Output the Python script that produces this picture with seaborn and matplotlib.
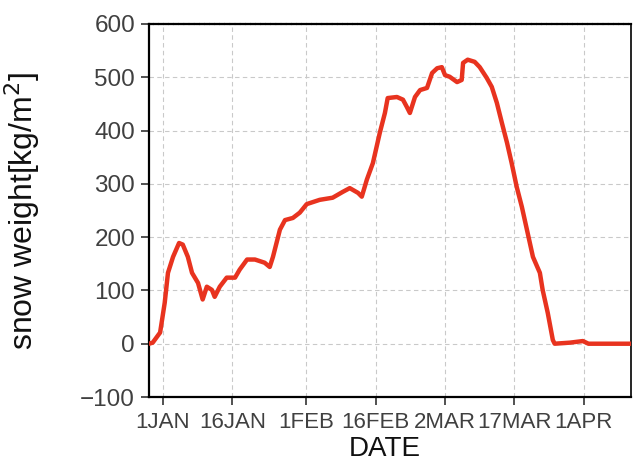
import numpy as np
import pandas as pd
import matplotlib
matplotlib.use("Agg")
import matplotlib.pyplot as plt
import seaborn as sns

# Days counted from 1 January (leap year), and snow weight in kg/m^2
days = [-3, -2.2, -0.6, 0.4, 1.1, 2.2, 3.5, 4.3, 5.4, 6.3,
        7.6, 8.6, 9.5, 10.6, 11.2, 12.3, 13.8, 15.6, 16.6, 18.2,
        19.9, 22.0, 23.1, 23.8, 25.3, 26.4, 28.1, 29.6, 31.1, 33.9,
        36.7, 38.9, 40.4, 42.2, 43.0, 44.1, 45.4, 46.9, 48.0, 48.6,
        50.6, 51.9, 52.7, 53.4, 54.5, 55.6, 57.1, 58.2, 59.3, 60.3,
        61.0, 62.0, 63.6, 64.6, 64.9, 65.9, 67.4, 68.5, 70.0, 71.1,
        72.2, 73.3, 74.4, 75.4, 76.5, 77.6, 78.7, 80.0, 81.5, 82.1,
        83.2, 84.3, 84.7, 88.0, 90.8, 92.0, 101.2]
snow_weight = [0, 2, 21, 77, 133, 163, 189, 186, 163, 133,
               114, 83, 107, 101, 88, 107, 124, 124, 139, 158,
               158, 152, 144, 163, 214, 232, 236, 246, 262, 270,
               274, 285, 292, 283, 276, 308, 339, 396, 433, 461,
               463, 458, 445, 433, 463, 476, 480, 508, 517, 519,
               504, 501, 491, 495, 527, 533, 529, 519, 499, 482,
               452, 414, 377, 339, 294, 257, 214, 163, 133, 101,
               58, 7, 0, 2, 5, 0, 0]

tick_days = [0, 15, 31, 46, 61, 76, 91]
tick_labels = ["1JAN", "16JAN", "1FEB", "16FEB", "2MAR", "17MAR", "1APR"]
y_ticks = [-100, 0, 100, 200, 300, 400, 500, 600]

df = pd.DataFrame({"day": days, "snow": snow_weight})

sns.set_style("white")
plt.rcParams["font.family"] = ["Liberation Sans", "DejaVu Sans"]

fig = plt.figure(figsize=(6.34, 4.65), dpi=100)
ax = fig.add_axes([149 / 634, 68 / 465, (631 - 149) / 634, (397 - 24) / 465])

sns.lineplot(data=df, x="day", y="snow", ax=ax, color="#e8331f",
             linewidth=3.2, estimator=None, zorder=3)

ax.set_xlim(-3, 101.2)
ax.set_ylim(-100, 600)
ax.set_xticks(tick_days)
ax.set_xticklabels(tick_labels)
ax.set_yticks(y_ticks)
ax.set_yticklabels([f"{v}" if v >= 0 else f"\u2212{abs(v)}" for v in y_ticks])

ax.grid(True, color="#c9c9c9", linestyle=(0, (4, 3)), linewidth=0.8, zorder=0)

ax.tick_params(axis="y", direction="out", length=6, width=1.2, pad=4,
               labelsize=17.5, labelcolor="#404040", left=True, color="#333333")
ax.tick_params(axis="x", direction="out", length=6, width=1.2, pad=5,
               labelsize=16, labelcolor="#404040", bottom=True, color="#333333")

for side in ["left", "bottom", "right"]:
    ax.spines[side].set_visible(True)
    ax.spines[side].set_color("black")
    ax.spines[side].set_linewidth(1.6)
ax.spines["right"].set_linewidth(1.2)
ax.spines["top"].set_color("black")
ax.spines["top"].set_linewidth(1.6)
ax.spines["top"].set_linestyle((0, (1.5, 0.8)))

ax.set_xlabel("")
ax.set_ylabel("snow weight[kg/m$^2$]", fontsize=23, color="#111111")
ax.yaxis.set_label_coords(-(149 - 42) / (631 - 149), 0.5)
fig.text(385 / 634, 1 - 436 / 465, "DATE", fontsize=20, color="#111111",
         ha="center", va="top")

fig.savefig("out.png", dpi=100, facecolor="white")
